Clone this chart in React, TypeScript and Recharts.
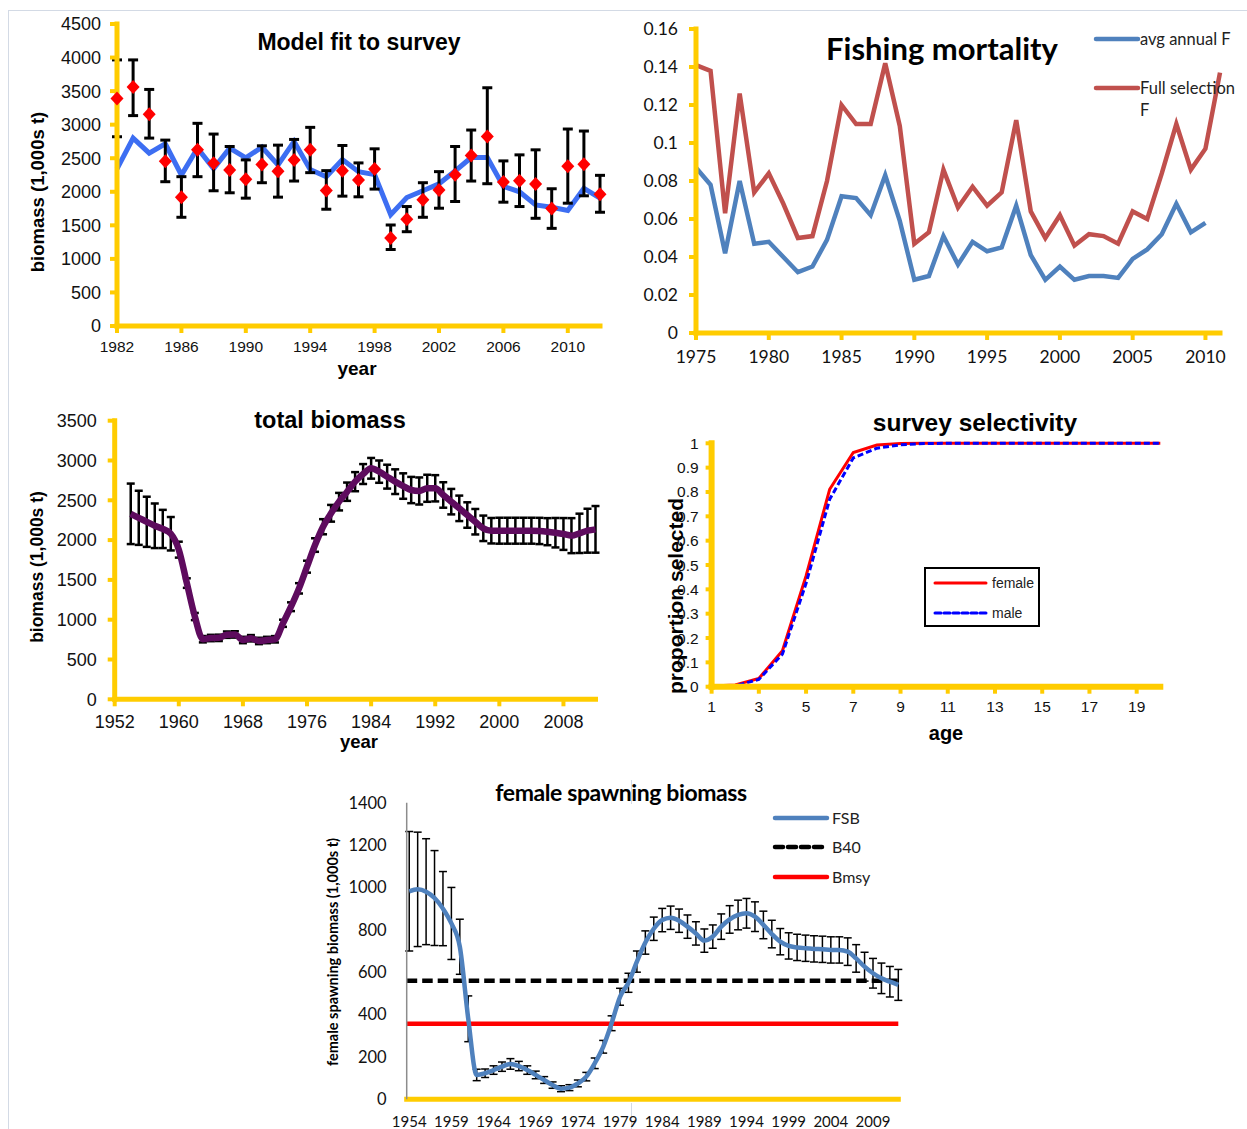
import React from 'react';
import { ComposedChart, Line, XAxis, YAxis, ErrorBar, ReferenceLine, Legend } from 'recharts';

const GOLD = '#FFCC00';
const SANS = '"Liberation Sans", Arial, sans-serif';
const HUMANIST = 'Lato, "Open Sans", sans-serif';

const range = (a: number, b: number) => Array.from({ length: b - a + 1 }, (_, i) => a + i);

// ---- model fit to survey ----
const surveyYears = range(1982, 2012);
const surveyObs = [
  3390, 3560, 3155, 2455, 1920, 2625, 2425, 2325, 2185, 2405,
  2305, 2475, 2625, 2020, 2315, 2175, 2340, 1310, 1590, 1880,
  2025, 2255, 2540, 2825, 2145, 2165, 2115, 1750, 2380, 2410,
  1965,
];
const surveyLow = [
  2820, 3135, 2800, 2150, 1620, 2225, 2015, 1985, 1905, 2135,
  1920, 2160, 2285, 1740, 1935, 1925, 2040, 1140, 1405, 1620,
  1755, 1855, 2160, 2120, 1845, 1780, 1605, 1455, 1830, 1940,
  1695,
];
const surveyHigh = [
  3965, 3965, 3525, 2770, 2225, 3020, 2860, 2675, 2475, 2685,
  2695, 2780, 2960, 2315, 2690, 2430, 2640, 1505, 1780, 2135,
  2300, 2675, 2920, 3550, 2460, 2550, 2625, 2045, 2935, 2905,
  2245,
];
const modelFit = [
  2340, 2800, 2575, 2715, 2250, 2650, 2345, 2650, 2505, 2665,
  2400, 2750, 2330, 2225, 2480, 2300, 2255, 1660, 1915, 2015,
  2120, 2310, 2510, 2510, 2080, 2000, 1805, 1770, 1720, 2050,
  1905,
];
const surveyYTicks = [0, 500, 1000, 1500, 2000, 2500, 3000, 3500, 4000, 4500];
const surveyXTicks = [1982, 1986, 1990, 1994, 1998, 2002, 2006, 2010];

// ---- fishing mortality ----
const fYears = range(1975, 2011);
const avgF = [
  0.087, 0.078, 0.042, 0.080, 0.047, 0.048, 0.040, 0.032, 0.035, 0.049,
  0.072, 0.071, 0.062, 0.083, 0.059, 0.028, 0.030, 0.051, 0.036, 0.048,
  0.043, 0.045, 0.067, 0.041, 0.028, 0.035, 0.028, 0.030, 0.030, 0.029,
  0.039, 0.044, 0.052, 0.068, 0.053, 0.058, null,
];
const fullF = [
  0.141, 0.138, 0.063, 0.126, 0.074, 0.084, 0.068, 0.050, 0.051, 0.080,
  0.120, 0.110, 0.110, 0.142, 0.109, 0.047, 0.053, 0.086, 0.066, 0.077,
  0.067, 0.074, 0.112, 0.064, 0.050, 0.062, 0.046, 0.052, 0.051, 0.047,
  0.064, 0.060, 0.084, 0.110, 0.086, 0.097, 0.137,
];
const fYTicks = [0, 0.02, 0.04, 0.06, 0.08, 0.1, 0.12, 0.14, 0.16];
const fXTicks = [1975, 1980, 1985, 1990, 1995, 2000, 2005, 2010];

// ---- total biomass ----
const totalYears = range(1954, 2012);
const totalB = [
  2330, 2280, 2230, 2180, 2140, 2080, 1880, 1460, 1040, 755,
  770, 772, 812, 815, 745, 767, 733, 745, 754, 955,
  1163, 1394, 1666, 1938, 2168, 2337, 2483, 2608, 2734, 2830,
  2902, 2860, 2797, 2734, 2679, 2629, 2617, 2651, 2651, 2567,
  2483, 2399, 2315, 2231, 2148, 2118, 2118, 2118, 2118, 2118,
  2118, 2115, 2106, 2093, 2077, 2056, 2085, 2118, 2135,
];
const totalErr = [
  380, 340, 315, 280, 240, 210, 100, 60, 45, 40,
  40, 40, 40, 40, 40, 40, 40, 40, 40, 45,
  55, 65, 75, 85, 95, 105, 110, 115, 120, 125,
  130, 140, 150, 155, 160, 165, 170, 170, 165, 160,
  160, 160, 160, 160, 160, 160, 163, 163, 163, 163,
  163, 165, 170, 185, 200, 220, 247, 276, 293,
];
const totalYTicks = [0, 500, 1000, 1500, 2000, 2500, 3000, 3500];
const totalXTicks = [1952, 1960, 1968, 1976, 1984, 1992, 2000, 2008];

// ---- survey selectivity ----
const ages = range(1, 20);
const selFemale = [0.003, 0.007, 0.034, 0.148, 0.455, 0.811, 0.962, 0.993, 0.999, 1, 1, 1, 1, 1, 1, 1, 1, 1, 1, 1];
const selMale = [0.001, 0.003, 0.030, 0.134, 0.425, 0.770, 0.940, 0.980, 0.994, 0.999, 1, 1, 1, 1, 1, 1, 1, 1, 1, 1];
const selYTicks = [0, 0.1, 0.2, 0.3, 0.4, 0.5, 0.6, 0.7, 0.8, 0.9, 1];
const selXTicks = [1, 3, 5, 7, 9, 11, 13, 15, 17, 19];

// ---- female spawning biomass ----
const fsbYears = range(1954, 2012);
const fsb = [
  982, 991, 980, 950, 900, 830, 720, 380, 115, 123,
  138, 154, 167, 157, 138, 115, 91, 67, 50, 55,
  75, 107, 170, 248, 359, 484, 550, 650, 740, 805,
  846, 857, 843, 815, 783, 749, 768, 815, 849, 870,
  878, 862, 823, 780, 744, 724, 717, 713, 710, 708,
  705, 705, 697, 665, 626, 595, 571, 555, 540,
];
const fsbErr = [
  282, 270, 250, 224, 175, 170, 130, 108, 27, 20,
  20, 22, 25, 22, 20, 18, 16, 15, 14, 14,
  16, 20, 25, 30, 35, 40, 45, 50, 55, 55,
  55, 55, 55, 55, 55, 55, 55, 60, 65, 70,
  70, 70, 65, 65, 62, 62, 62, 62, 62, 62,
  62, 62, 65, 65, 68, 70, 72, 72, 73,
];
const B40 = 560;
const BMSY = 357;
const fsbYTicks = [0, 200, 400, 600, 800, 1000, 1200, 1400];
const fsbXTicks = [1954, 1959, 1964, 1969, 1974, 1979, 1984, 1989, 1994, 1999, 2004, 2009];

// tables for the charts
const surveyData = surveyYears.map((year, i) => ({
  year,
  fit: modelFit[i],
  obs: surveyObs[i],
  obsErr: [surveyObs[i] - surveyLow[i], surveyHigh[i] - surveyObs[i]],
}));
const fData = fYears.map((year, i) => ({ year, avg: avgF[i], full: fullF[i] }));
const totalData = totalYears.map((year, i) => ({ year, total: totalB[i], err: totalErr[i] }));
const selData = ages.map((age, i) => ({ age, female: selFemale[i], male: selMale[i] }));
const fsbData = fsbYears.map((year, i) => ({ year, fsb: fsb[i], err: fsbErr[i] }));

const goldAxis = (w: number) => ({ stroke: GOLD, strokeWidth: w, strokeLinecap: 'square' as const });
const goldTick = { stroke: GOLD, strokeWidth: 4 };
const tickFont = (size: number, family: string) => ({ fontSize: size, fill: '#111', fontFamily: family });

const Diamond = (props: any) => {
  const { cx, cy, index } = props;
  if (cx == null || cy == null) return <g key={`dm-${index}`} />;
  return (
    <path
      key={`dm-${index}`}
      d={`M${cx},${cy - 7}L${cx + 6.5},${cy}L${cx},${cy + 7}L${cx - 6.5},${cy}Z`}
      fill="#FF0000"
    />
  );
};

type CaptionProps = {
  x: number;
  y: number;
  size: number;
  font?: string;
  rotate?: boolean;
  spacing?: number;
  children: React.ReactNode;
};

function Caption({ x, y, size, font = SANS, rotate = false, spacing, children }: CaptionProps) {
  return (
    <div
      style={{
        position: 'absolute',
        left: x,
        top: y,
        transform: `translate(-50%, -50%)${rotate ? ' rotate(-90deg)' : ''}`,
        fontFamily: font,
        fontSize: size,
        fontWeight: 700,
        whiteSpace: 'nowrap',
        lineHeight: 1,
        color: '#000',
        letterSpacing: spacing,
      }}
    >
      {children}
    </div>
  );
}

const legendLabel = (x: number, y: number, text: string, font: string, size: number) => (
  <div
    style={{
      position: 'absolute',
      left: x,
      top: y,
      transform: 'translateY(-50%)',
      fontFamily: font,
      fontSize: size,
      lineHeight: 1,
      color: '#222',
      whiteSpace: 'nowrap',
    }}
  >
    {text}
  </div>
);

const swatch = (x: number, y: number, len: number, color: string, width: number, dash?: string) => (
  <svg style={{ position: 'absolute', left: x, top: y - 6, overflow: 'visible' }} width={len} height={12}>
    <line x1={0} y1={6} x2={len} y2={6} stroke={color} strokeWidth={width} strokeDasharray={dash} strokeLinecap="round" />
  </svg>
);

const FishingLegend = () => (
  <div style={{ position: 'relative', width: 150, height: 100 }}>
    {swatch(0, 11, 42, '#4F81BD', 4.5)}
    {legendLabel(44, 11, 'avg annual F', HUMANIST, 16.5)}
    {swatch(0, 60, 42, '#C0504D', 4.5)}
    {legendLabel(44, 60, 'Full selection', HUMANIST, 16.5)}
    {legendLabel(44, 82, 'F', HUMANIST, 16.5)}
  </div>
);

const SelectivityLegend = () => (
  <div style={{ position: 'relative', width: 112, height: 56, border: '2px solid #000', background: '#fff' }}>
    {swatch(9, 14, 51, '#FF0000', 3)}
    {legendLabel(66, 14, 'female', SANS, 14)}
    {swatch(9, 44, 51, '#0000FF', 3, '6 3')}
    {legendLabel(66, 44, 'male', SANS, 14)}
  </div>
);

const SpawningLegend = () => (
  <div style={{ position: 'relative', width: 110, height: 85 }}>
    {swatch(0, 13, 52, '#4F81BD', 4.5)}
    {legendLabel(57, 13, 'FSB', HUMANIST, 16)}
    {swatch(0, 42, 52, '#000', 4.5, '8 5')}
    {legendLabel(57, 42, 'B40', HUMANIST, 16)}
    {swatch(0, 72, 52, '#FF0000', 4.5)}
    {legendLabel(57, 72, 'Bmsy', HUMANIST, 16)}
  </div>
);

export default function App() {
  return (
    <div
      style={{
        position: 'absolute',
        left: 0,
        top: 0,
        width: 1247,
        height: 1129,
        background: '#fff',
        overflow: 'hidden',
        fontFamily: SANS,
      }}
    >
      {/* page frame */}
      <div style={{ position: 'absolute', left: 8, top: 10, width: 1239, height: 1, background: '#D3DAE5' }} />
      <div style={{ position: 'absolute', left: 8, top: 10, width: 1, height: 1119, background: '#D3DAE5' }} />
      <div style={{ position: 'absolute', left: 631, top: 780, width: 1, height: 24, background: '#D3DAE5' }} />
      <div style={{ position: 'absolute', left: 631, top: 1103, width: 1, height: 26, background: '#D3DAE5' }} />

      {/* model fit to survey */}
      <div style={{ position: 'absolute', left: 0, top: 0 }}>
        <ComposedChart width={620} height={390} data={surveyData} margin={{ top: 24, right: 20, bottom: 0, left: 0 }}>
          <XAxis
            dataKey="year"
            type="number"
            domain={[1982, 2012]}
            ticks={surveyXTicks}
            interval={0}
            height={64}
            axisLine={goldAxis(5)}
            tickLine={goldTick}
            tickSize={7}
            tickMargin={8}
            tick={tickFont(15.5, SANS)}
          />
          <YAxis
            type="number"
            domain={[0, 4500]}
            ticks={surveyYTicks}
            interval={0}
            width={117}
            axisLine={goldAxis(5)}
            tickLine={goldTick}
            tickSize={7}
            tickMargin={9}
            tick={tickFont(18, SANS)}
          />
          <Line dataKey="fit" type="linear" stroke="#3D6EF2" strokeWidth={5} dot={false} activeDot={false} isAnimationActive={false} />
          <Line dataKey="obs" stroke="none" dot={Diamond} activeDot={false} isAnimationActive={false}>
            <ErrorBar dataKey="obsErr" direction="y" width={5} strokeWidth={3} stroke="#000" />
          </Line>
        </ComposedChart>
      </div>
      <Caption x={359} y={42} size={23}>Model fit to survey</Caption>
      <Caption x={38} y={192} size={18.5} rotate>biomass (1,000s t)</Caption>
      <Caption x={357} y={368} size={19}>year</Caption>

      {/* fishing mortality */}
      <div style={{ position: 'absolute', left: 620, top: 0 }}>
        <ComposedChart width={627} height={390} data={fData} margin={{ top: 29, right: 27, bottom: 0, left: 0 }}>
          <XAxis
            dataKey="year"
            type="number"
            domain={[1975, 2011]}
            ticks={fXTicks}
            interval={0}
            height={57}
            axisLine={goldAxis(5)}
            tickLine={goldTick}
            tickSize={7}
            tickMargin={11}
            tick={tickFont(17.5, HUMANIST)}
          />
          <YAxis
            type="number"
            domain={[0, 0.16]}
            ticks={fYTicks}
            interval={0}
            width={76}
            axisLine={goldAxis(5)}
            tickLine={goldTick}
            tickSize={7}
            tickMargin={11}
            tick={tickFont(17.5, HUMANIST)}
          />
          <Line dataKey="full" type="linear" stroke="#C0504D" strokeWidth={4.5} dot={false} activeDot={false} isAnimationActive={false} />
          <Line dataKey="avg" type="linear" stroke="#4F81BD" strokeWidth={4.5} dot={false} activeDot={false} isAnimationActive={false} />
          <Legend
            layout="vertical"
            align="center"
            verticalAlign="middle"
            content={FishingLegend}
            wrapperStyle={{ left: 476, top: 28, width: 150, height: 100 }}
          />
        </ComposedChart>
      </div>
      <Caption x={942} y={48} size={31} font={HUMANIST}>Fishing mortality</Caption>

      {/* total biomass */}
      <div style={{ position: 'absolute', left: 0, top: 400 }}>
        <ComposedChart width={620} height={370} data={totalData} margin={{ top: 20.7, right: 24.5, bottom: 0, left: 0 }}>
          <XAxis
            dataKey="year"
            type="number"
            domain={[1952, 2012]}
            ticks={totalXTicks}
            interval={0}
            height={70.7}
            axisLine={goldAxis(5)}
            tickLine={goldTick}
            tickSize={7}
            tickMargin={9}
            tick={tickFont(18, SANS)}
          />
          <YAxis
            type="number"
            domain={[0, 3500]}
            ticks={totalYTicks}
            interval={0}
            width={114.7}
            axisLine={goldAxis(5)}
            tickLine={goldTick}
            tickSize={7}
            tickMargin={11}
            tick={tickFont(18, SANS)}
          />
          <Line dataKey="total" stroke="none" dot={false} activeDot={false} isAnimationActive={false}>
            <ErrorBar dataKey="err" direction="y" width={4} strokeWidth={2.5} stroke="#000" />
          </Line>
          <Line dataKey="total" type="monotone" stroke="#5E0B5E" strokeWidth={6.5} dot={false} activeDot={false} isAnimationActive={false} />
        </ComposedChart>
      </div>
      <Caption x={330} y={421} size={23.5}>total biomass</Caption>
      <Caption x={38} y={567} size={17.5} rotate>biomass (1,000s t)</Caption>
      <Caption x={359} y={742} size={18.5}>year</Caption>

      {/* survey selectivity */}
      <div style={{ position: 'absolute', left: 640, top: 400 }}>
        <ComposedChart width={607} height={370} data={selData} margin={{ top: 43.3, right: 86.7, bottom: 0, left: 0 }}>
          <XAxis
            dataKey="age"
            type="number"
            domain={[1, 20]}
            ticks={selXTicks}
            interval={0}
            height={83.3}
            axisLine={goldAxis(6)}
            tickLine={goldTick}
            tickSize={7}
            tickMargin={7}
            tick={tickFont(15.5, SANS)}
          />
          <YAxis
            type="number"
            domain={[0, 1]}
            ticks={selYTicks}
            interval={0}
            width={71.6}
            axisLine={goldAxis(6)}
            tickLine={goldTick}
            tickSize={6}
            tickMargin={7}
            tick={tickFont(15.5, SANS)}
          />
          <Line dataKey="female" type="linear" stroke="#FF0000" strokeWidth={3} dot={false} activeDot={false} isAnimationActive={false} />
          <Line dataKey="male" type="linear" stroke="#0000FF" strokeWidth={3} strokeDasharray="6 3" dot={false} activeDot={false} isAnimationActive={false} />
          <Legend
            layout="vertical"
            align="center"
            verticalAlign="middle"
            content={SelectivityLegend}
            wrapperStyle={{ left: 284, top: 167, width: 116, height: 60 }}
          />
        </ComposedChart>
      </div>
      <Caption x={975} y={423} size={24.5}>survey selectivity</Caption>
      <Caption x={675} y={596} size={21} rotate>proportion selected</Caption>
      <Caption x={946} y={733} size={20}>age</Caption>

      {/* female spawning biomass */}
      <div style={{ position: 'absolute', left: 320, top: 780 }}>
        <ComposedChart width={610} height={349} data={fsbData} margin={{ top: 22.7, right: 31.7, bottom: 0, left: 0 }}>
          <XAxis
            dataKey="year"
            type="number"
            domain={[1953.7, 2012]}
            ticks={fsbXTicks}
            interval={0}
            height={29.7}
            axisLine={goldAxis(5)}
            tickLine={false}
            tickSize={0}
            tickMargin={17}
            tick={tickFont(15, HUMANIST)}
          />
          <YAxis
            type="number"
            domain={[0, 1400]}
            ticks={fsbYTicks}
            interval={0}
            width={86.7}
            axisLine={{ stroke: '#8C8C8C', strokeWidth: 1.5 }}
            tickLine={false}
            tickSize={0}
            tickMargin={20}
            tick={tickFont(16.5, HUMANIST)}
          />
          <ReferenceLine y={B40} stroke="#000" strokeWidth={4.5} strokeDasharray="10.5 5" />
          <ReferenceLine y={BMSY} stroke="#FF0000" strokeWidth={4.5} />
          <Line dataKey="fsb" stroke="none" dot={false} activeDot={false} isAnimationActive={false}>
            <ErrorBar dataKey="err" direction="y" width={4} strokeWidth={1.5} stroke="#000" />
          </Line>
          <Line dataKey="fsb" type="monotone" stroke="#4F81BD" strokeWidth={4.5} dot={false} activeDot={false} isAnimationActive={false} />
          <Legend
            layout="vertical"
            align="center"
            verticalAlign="middle"
            content={SpawningLegend}
            wrapperStyle={{ left: 455, top: 25, width: 110, height: 85 }}
          />
        </ComposedChart>
      </div>
      <Caption x={621} y={792} size={23} font={HUMANIST} spacing={-0.4}>female spawning biomass</Caption>
      <Caption x={333} y={952} size={14.5} font={HUMANIST} rotate>female spawning biomass (1,000s t)</Caption>
    </div>
  );
}
